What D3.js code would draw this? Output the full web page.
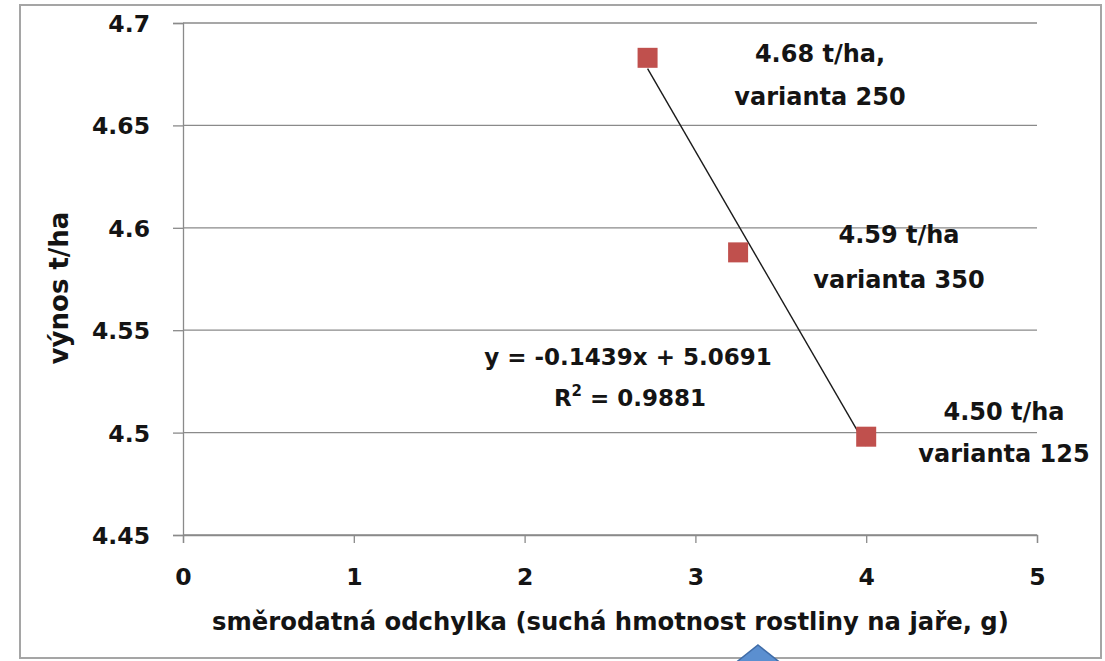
<!DOCTYPE html>
<html>
<head>
<meta charset="utf-8">
<script src="https://cdn.jsdelivr.net/npm/d3@7"></script>
<style>
  body { margin: 0; background: #fff; }
  svg text { font-family: "DejaVu Sans", sans-serif; font-weight: bold; fill: #141414; }
</style>
</head>
<body>
<div id="chart"></div>
<script>
// data
const sdValues = [2.72, 3.25, 4.0];          // směrodatná odchylka
const yieldValues = [4.683, 4.588, 4.498];   // výnos t/ha
const pointLabels = [["4.68 t/ha,", "varianta 250"], ["4.59 t/ha", "varianta 350"], ["4.50 t/ha", "varianta 125"]];
const xTicks = [0, 1, 2, 3, 4, 5];
const yTicks = [4.45, 4.5, 4.55, 4.6, 4.65, 4.7];
const trendCoef = [-0.1439, 5.0691];   // slope, intercept shown on the chart
const trendText = ["y = -0.1439x + 5.0691", "0.9881"];

const W = 1105, H = 661;
const margin = { top: 23, right: 68, bottom: 126, left: 183 };
const width = W - margin.left - margin.right;
const height = H - margin.top - margin.bottom;
const gridColor = "#8a8a8a";

const svg = d3.select("#chart").append("svg")
  .attr("width", W)
  .attr("height", H);

// outer frame
svg.append("rect")
  .attr("x", 20).attr("y", 5)
  .attr("width", 1081).attr("height", 653)
  .attr("fill", "#fff")
  .attr("stroke", "#a5a5a5")
  .attr("stroke-width", 2);

const g = svg.append("g")
  .attr("transform", "translate(" + margin.left + "," + margin.top + ")");

const x = d3.scaleLinear().domain([0, 5]).range([0, width]);
const y = d3.scaleLinear().domain([4.45, 4.7]).range([height, 0]);

// gridlines
g.selectAll(".grid")
  .data(yTicks)
  .enter()
  .append("line")
  .attr("x1", 0).attr("x2", width)
  .attr("y1", d => y(d)).attr("y2", d => y(d))
  .attr("stroke", gridColor)
  .attr("stroke-width", 1.3);

// y axis
const yAxis = g.append("g")
  .call(d3.axisLeft(y).tickValues(yTicks).tickSize(10).tickPadding(23).tickFormat(d3.format("")));
yAxis.select(".domain").attr("stroke", gridColor).attr("stroke-width", 1.3);
yAxis.selectAll(".tick line").attr("stroke", gridColor).attr("stroke-width", 1.3);
yAxis.selectAll(".tick text")
  .attr("dy", "0.36em")
  .style("font-size", "23.5px")
  .style("font-family", "'DejaVu Sans', sans-serif")
  .style("font-weight", "bold")
  .attr("fill", "#141414");

// x axis
const xAxis = g.append("g")
  .attr("transform", "translate(0," + height + ")")
  .call(d3.axisBottom(x).tickValues(xTicks).tickSize(8).tickFormat(d3.format("d")));
xAxis.select(".domain").attr("stroke", gridColor).attr("stroke-width", 1.3);
xAxis.selectAll(".tick line").attr("stroke", gridColor).attr("stroke-width", 1.3);
xAxis.selectAll(".tick text")
  .attr("y", 50).attr("dy", 0)
  .style("font-size", "23.5px")
  .style("font-family", "'DejaVu Sans', sans-serif")
  .style("font-weight", "bold")
  .attr("fill", "#141414");

// axis titles
svg.append("text")
  .attr("x", 212).attr("y", 630)
  .style("font-size", "24.3px")
  .text("směrodatná odchylka (suchá hmotnost rostliny na jaře, g)");

svg.append("text")
  .attr("transform", "translate(68,288) rotate(-90)")
  .attr("text-anchor", "middle")
  .style("font-size", "26px")
  .text("výnos t/ha");

// trendline
const trendX = d3.extent(sdValues);
g.append("line")
  .attr("x1", x(trendX[0])).attr("y1", y(trendCoef[0] * trendX[0] + trendCoef[1]))
  .attr("x2", x(trendX[1])).attr("y2", y(trendCoef[0] * trendX[1] + trendCoef[1]))
  .attr("stroke", "#1a1a1a")
  .attr("stroke-width", 1.4);

// points
g.selectAll(".pt")
  .data(sdValues)
  .enter()
  .append("rect")
  .attr("x", d => x(d) - 10)
  .attr("y", (d, i) => y(yieldValues[i]) - 10)
  .attr("width", 20).attr("height", 20)
  .attr("fill", "#c0504d");

// point labels: [centre x, baseline of line 1, baseline of line 2]
const labelPos = [[820, 62, 105], [899, 243, 288], [1004, 420, 462]];
pointLabels.forEach((lines, i) => {
  lines.forEach((t, j) => {
    svg.append("text")
      .attr("x", labelPos[i][0])
      .attr("y", labelPos[i][1 + j])
      .attr("text-anchor", "middle")
      .style("font-size", "24px")
      .text(t);
  });
});

// equation
svg.append("text")
  .attr("x", 628).attr("y", 365)
  .attr("text-anchor", "middle")
  .style("font-size", "23px")
  .text(trendText[0]);
const r2 = svg.append("text")
  .attr("x", 630).attr("y", 406)
  .attr("text-anchor", "middle")
  .style("font-size", "23px");
r2.append("tspan").text("R");
r2.append("tspan").attr("dy", -10).style("font-size", "15px").text("2");
r2.append("tspan").attr("dy", 10).text(" = " + trendText[1]);

// blue arrow shape poking in at the bottom
svg.append("polygon")
  .attr("points", "758,645 792,672 724,672")
  .attr("fill", "#5b8fd0")
  .attr("stroke", "#3f6ca8")
  .attr("stroke-width", 1.5);
</script>
</body>
</html>
